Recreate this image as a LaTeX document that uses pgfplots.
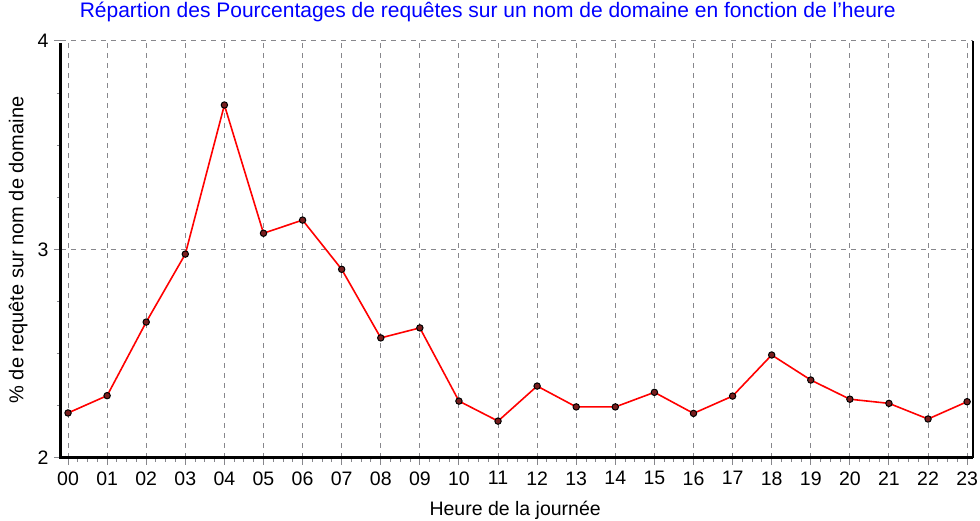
\documentclass[border=0pt]{standalone}
\usepackage{fontspec}
\setmainfont{Liberation Sans}
\usepackage{pgfplots}
\pgfplotsset{compat=1.18}
\definecolor{gridc}{RGB}{135,135,140}
\definecolor{mfill}{RGB}{120,30,30}
\begin{document}
\begin{tikzpicture}
\begin{axis}[
 scale only axis, width=912pt, height=417pt,
 xmin=-0.18, xmax=23.15, ymin=2, ymax=4,
 xtick={0,...,23},
 xticklabels={00,01,02,03,04,05,06,07,08,09,10,11,12,13,14,15,16,17,18,19,20,21,22,23},
 ytick={2,3,4},
 minor x tick num=3, minor y tick num=3,
 xtick pos=bottom, ytick pos=left,
 xmajorgrids, ymajorgrids,
 major grid style={gridc, line width=1pt, dash pattern=on 5pt off 5pt},
 axis line style={draw=none},
 tick align=outside,
 major tick length=7pt, minor tick length=4pt,
 every tick/.style={gridc, line width=1pt},
 /pgf/number format/assume math mode=true,
 tick label style={font=\fontsize{19.5}{22}\selectfont},
 xticklabel style={yshift=-3pt},
 yticklabel style={xshift=-2pt},
 label style={font=\fontsize{19.5}{22}\selectfont},
 xlabel={Heure de la journée},
 xlabel style={at={(axis description cs:0.498,-0.125)}, anchor=center},
 ylabel={\% de requête sur nom de domaine},
 ylabel style={at={(axis description cs:-0.047,0.499)}, anchor=center, rotate=0, font=\fontsize{20}{22}\selectfont},
 title={Répartion des Pourcentages de requêtes sur un nom de domaine en fonction de l'heure},
 title style={at={(axis description cs:0.468,1.055)}, anchor=center, text=blue, font=\fontsize{21}{24}\selectfont},
 clip=false,
]
\addplot[red, line width=1.6pt, mark=*, mark size=3.2pt, mark options={fill=mfill, draw=black, line width=1pt}] coordinates {
(0,2.216) (1,2.299) (2,2.652) (3,2.978) (4,3.693) (5,3.078) (6,3.141) (7,2.905)
(8,2.576) (9,2.624) (10,2.273) (11,2.177) (12,2.345) (13,2.245) (14,2.245) (15,2.315)
(16,2.214) (17,2.297) (18,2.494) (19,2.374) (20,2.282) (21,2.262) (22,2.187) (23,2.270)
};
\draw[black, line width=3pt] (axis description cs:0,0.995) -- (axis description cs:0,0) -- (axis description cs:1,0);
\draw[black, line width=1.5pt] (axis description cs:1,0) -- (axis description cs:1,1);
\end{axis}
\pgfresetboundingbox
\path[use as bounding box] ([xshift=-61pt,yshift=-63pt]current axis.south west) rectangle ([xshift=7pt,yshift=41pt]current axis.north east);
\end{tikzpicture}
\end{document}
